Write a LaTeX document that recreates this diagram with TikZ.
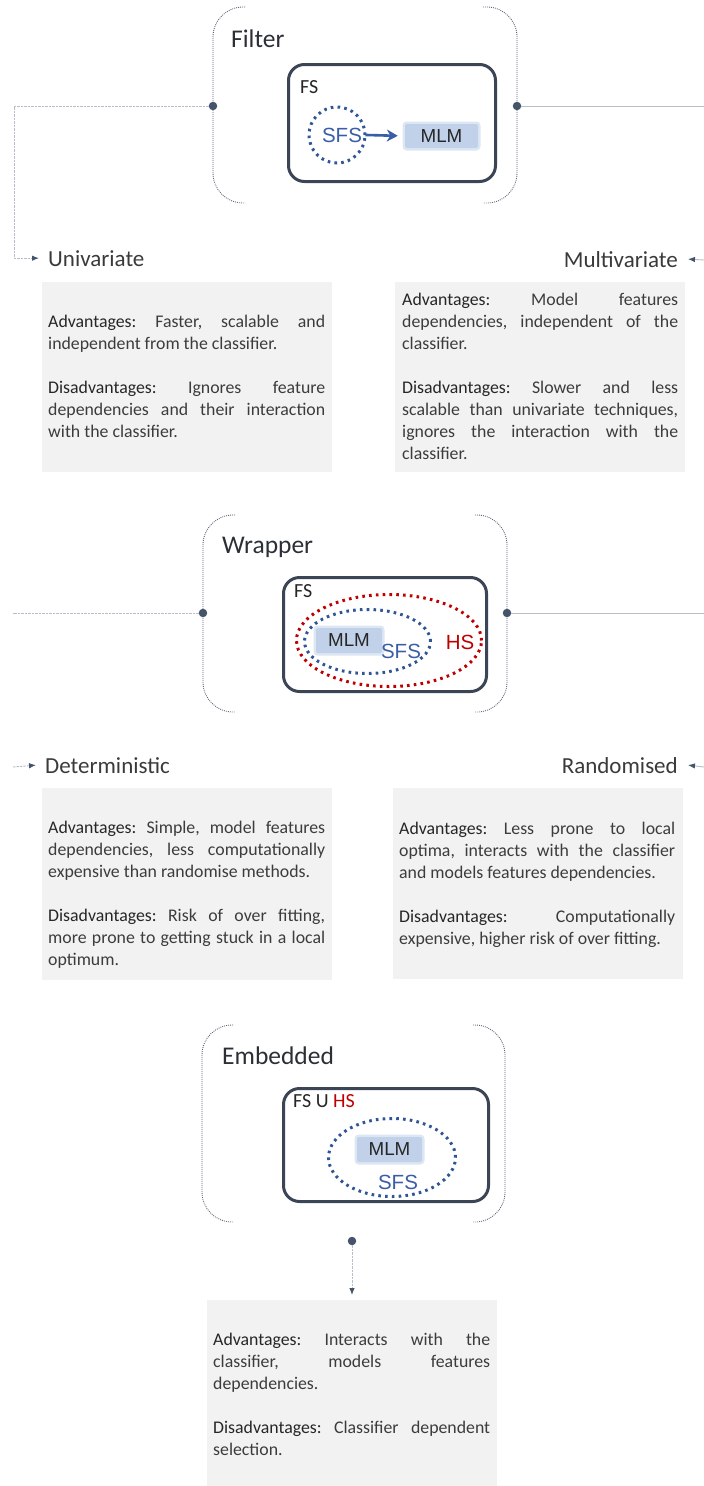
\documentclass[tikz,border=0pt]{standalone}
\usepackage{fontspec}
\setmainfont{Carlito}
\newfontfamily\arialf{Liberation Sans}
\usetikzlibrary{arrows.meta,shapes.geometric}
\definecolor{navyc}{HTML}{3B4556}
\definecolor{dotc}{HTML}{44546A}
\definecolor{bluec}{HTML}{2F5597}
\definecolor{sfsblue}{HTML}{3A5DA8}
\definecolor{redc}{HTML}{C00000}
\definecolor{grayfill}{HTML}{F2F2F2}
\definecolor{bodyc}{HTML}{3C3C3C}
\definecolor{labc}{HTML}{262626}
\definecolor{conng}{HTML}{B8BEC8}
\definecolor{brkc}{HTML}{5E6678}
\definecolor{mlmbg}{HTML}{C2D1EA}
\definecolor{mlmtxt}{HTML}{262626}
\definecolor{titc}{HTML}{2B2F36}
\definecolor{labtxt}{HTML}{3A3A3A}
\newcommand\advlab[1]{{\color{labc}#1}}
\newcommand\parGap{\par\vspace{22pt}}
\tolerance=9999
\hbadness=10000
\frenchspacing
\begin{document}
\begin{tikzpicture}[x=1pt,y=-1pt,
  brk/.style={draw=brkc,line width=0.9pt,dash pattern=on 0.9pt off 1.1pt,rounded corners=30pt},
  dotn/.style={circle,fill=dotc,inner sep=0pt,minimum size=8.5pt},
  fsbox/.style={draw=navyc,line width=3pt,rounded corners=16pt,fill=white,inner sep=0pt},
  sfsdot/.style={draw=bluec,line width=3pt,dash pattern=on 2.6pt off 4.2pt,inner sep=0pt},
  hsdot/.style={draw=redc,line width=3pt,dash pattern=on 2.6pt off 4.2pt,inner sep=0pt},
  mlmbox/.style={fill=mlmbg,inner sep=0pt,rounded corners=2pt,preaction={draw=mlmbg!55,line width=5pt},font=\arialf\fontsize{18.8}{20}\selectfont,text=mlmtxt},
  titl/.style={inner sep=0pt,anchor=base west,font=\fontsize{25.5}{28}\selectfont,text=titc},
  lab/.style={inner sep=0pt,font=\fontsize{23}{26}\selectfont,text=labtxt},
  fslab/.style={inner sep=0pt,anchor=base west,font=\fontsize{20}{22}\selectfont,text=black!85},
  sfst/.style={inner sep=0pt,font=\arialf\fontsize{20.5}{22}\selectfont,text=sfsblue},
  hst/.style={inner sep=0pt,font=\arialf\fontsize{20.5}{22}\selectfont,text=redc},
  gbox/.style={fill=grayfill,inner sep=0pt,anchor=north west},
  gtext/.style={inner sep=0pt,anchor=north west,align=justify,text=bodyc,font=\fontsize{17.8}{22}\selectfont},
  connl/.style={draw=conng,line width=0.9pt,dash pattern=on 2.5pt off 1pt},
  connr/.style={draw=conng,line width=0.9pt},
  arrtip/.style={-{Latex[length=7pt,width=5.5pt,color=dotc]}},
  bluearr/.style={draw=sfsblue,line width=2.6pt,-{Stealth[length=11pt,width=12pt]}}
]
\useasboundingbox (0,0) rectangle (704,1486);

% ---------------- Filter ----------------
\draw[brk] (245,7) -- (213,7) -- (213,203) -- (245,203);
\draw[brk] (483,7) -- (517,7) -- (517,203) -- (483,203);
\node[titl] (ftitle) at (231,47) {Filter};
\node[fsbox,minimum width=207pt,minimum height=117pt] (ffs) at (392,123) {};
\node[fslab] (ffsl) at (300,93) {FS};
\node[sfsdot,circle,minimum size=56pt] (fcirc) at (337,135) {};
\node[sfst] (fsfs) at (342,135) {SFS};
\node[mlmbox,minimum width=73pt,minimum height=24pt] (fmlm) at (441.5,136) {MLM};
\draw[bluearr,shorten <=-1pt,shorten >=7pt] (fcirc.east) -- (fmlm.west);
\node[dotn] (fdl) at (213,106) {};
\node[dotn] (fdr) at (517,106) {};

\node[lab,anchor=base west] (univ) at (48,266) {Univariate};
\node[lab,anchor=base east] (multi) at (678,267) {Multivariate};
\coordinate (fc1) at (14,106);
\coordinate (fe1) at (704,106);
\coordinate (fe2) at (704,260);
\draw[connl,arrtip] (fdl) -- (fc1) |- ([xshift=-9pt]univ.west);
\draw[connr] (fdr) -- (fe1);
\draw[connr,arrtip] (fe2) -- ([xshift=10pt]multi.east);

\node[gbox,minimum width=290pt,minimum height=190pt] (b1) at (42,282) {};
\node[gtext,text width=277pt] (t1) at (48,313) {\rule{0pt}{14pt}\advlab{Advantages:} Faster, scalable and\linebreak independent from the classifier.\parGap \advlab{Disadvantages:} Ignores feature\linebreak dependencies and their interaction\linebreak with the classifier.};

\node[gbox,minimum width=290pt,minimum height=190pt] (b2) at (395,282) {};
\node[gtext,text width=276pt] (t2) at (402,291) {\rule{0pt}{14pt}\advlab{Advantages:} Model features\linebreak dependencies, independent of the\linebreak classifier.\parGap \advlab{Disadvantages:} Slower and less\linebreak scalable than univariate techniques,\linebreak ignores the interaction with the\linebreak classifier.};

% ---------------- Wrapper ----------------
\draw[brk] (235,515) -- (203,515) -- (203,712) -- (235,712);
\draw[brk] (475,515) -- (507,515) -- (507,712) -- (475,712);
\node[titl] (wtitle) at (222,553) {Wrapper};
\node[fsbox,minimum width=203pt,minimum height=114pt] (wfs) at (385,634.5) {};
\node[fslab] (wfsl) at (294,597) {FS};
\node[hsdot,ellipse,minimum width=185pt,minimum height=92pt] (well) at (389,640.5) {};
\node[sfsdot,ellipse,minimum width=126pt,minimum height=64pt] (wsell) at (367.5,641.5) {};
\node[mlmbox,minimum width=66pt,minimum height=25pt] (wmlm) at (349,640.5) {MLM};
\node[sfst] (wsfs) at (401,651) {SFS};
\node[hst] (whs) at (460,642) {HS};
\node[dotn] (wdl) at (203,613) {};
\node[dotn] (wdr) at (507,613) {};

\node[lab,anchor=base west] (det) at (45,773) {Deterministic};
\node[lab,anchor=base east] (rand) at (678,773) {Randomised};
\coordinate (wc1) at (13,613);
\coordinate (wc2) at (13,767);
\coordinate (we1) at (704,613);
\coordinate (we2) at (704,767);
\draw[connl] (wdl) -- (wc1);
\draw[connl,arrtip] (wc2) -- ([xshift=-9pt]det.west);
\draw[connr] (wdr) -- (we1);
\draw[connr,arrtip] (we2) -- ([xshift=10pt]rand.east);

\node[gbox,minimum width=290pt,minimum height=192pt] (b3) at (42,788) {};
\node[gtext,text width=277pt] (t3) at (48,819) {\rule{0pt}{14pt}\advlab{Advantages:} Simple, model features\linebreak dependencies, less computationally\linebreak expensive than randomise methods.\parGap \advlab{Disadvantages:} Risk of over fitting,\linebreak more prone to getting stuck in a local\linebreak optimum.};

\node[gbox,minimum width=290pt,minimum height=191pt] (b4) at (393,788) {};
\node[gtext,text width=276pt] (t4) at (399,820) {\rule{0pt}{14pt}\advlab{Advantages:} Less prone to local\linebreak optima, interacts with the classifier\linebreak and models features dependencies.\parGap \advlab{Disadvantages:} Computationally\linebreak expensive, higher risk of over fitting.};

% ---------------- Embedded ----------------
\draw[brk] (233,1025) -- (202,1025) -- (202,1222) -- (233,1222);
\draw[brk] (473,1025) -- (505,1025) -- (505,1222) -- (473,1222);
\node[titl] (etitle) at (222,1064) {Embedded};
\node[fsbox,minimum width=205pt,minimum height=113pt] (efs) at (386,1145) {};
\node[fslab] (efsl) at (293,1107) {FS U \textcolor{redc}{HS}};
\node[sfsdot,ellipse,minimum width=127pt,minimum height=78pt] (eell) at (392,1157.5) {};
\node[mlmbox,minimum width=65pt,minimum height=25pt] (emlm) at (389.5,1149.5) {MLM};
\node[sfst] (esfs) at (398,1182) {SFS};
\node[dotn] (edb) at (352,1241) {};

\node[gbox,minimum width=290pt,minimum height=186pt] (b5) at (207,1300) {};
\draw[connl,arrtip,shorten >=5pt] (edb) -- (edb |- b5.north);
\node[gtext,text width=277pt] (t5) at (213,1331) {\rule{0pt}{14pt}\advlab{Advantages:} Interacts with the\linebreak classifier, models features\linebreak dependencies.\parGap \advlab{Disadvantages:} Classifier dependent\linebreak selection.};
\end{tikzpicture}
\end{document}
